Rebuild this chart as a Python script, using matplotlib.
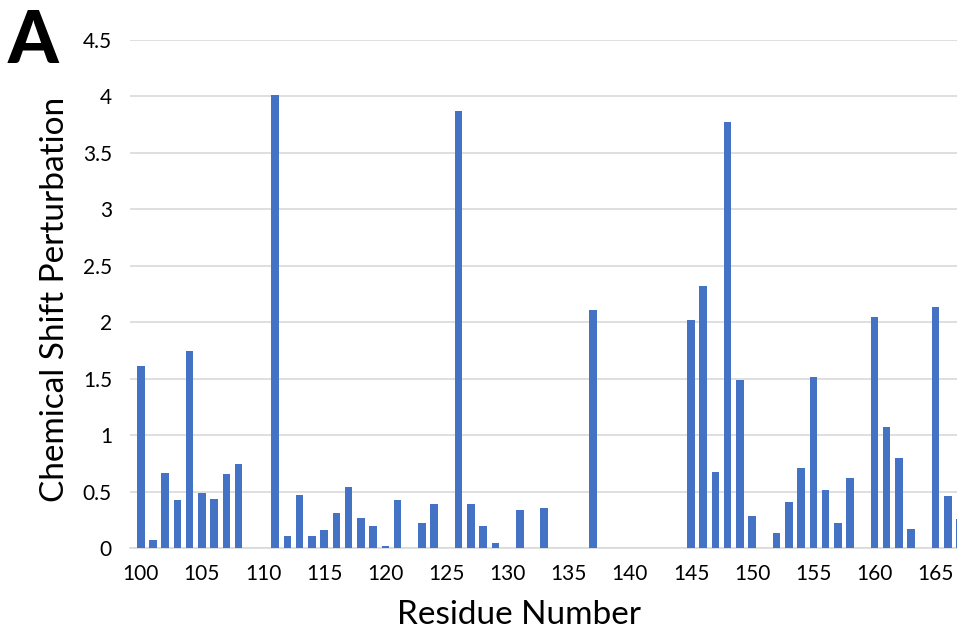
import matplotlib
matplotlib.use("Agg")
import matplotlib.pyplot as plt

# residue numbers and chemical shift perturbation values
residues = list(range(100, 168))
csp = [1.61, 0.07, 0.67, 0.43, 1.75, 0.49, 0.44, 0.66, 0.75, 0, 0,
       4.01, 0.11, 0.47, 0.11, 0.16, 0.31, 0.54, 0.27, 0.20, 0.02,
       0.43, 0, 0.22, 0.39, 0, 3.87, 0.39, 0.20, 0.05, 0, 0.34, 0, 0.36,
       0, 0, 0, 2.11, 0, 0, 0, 0, 0, 0, 0,
       2.02, 2.32, 0.68, 3.77, 1.49, 0.29, 0, 0.14, 0.41, 0.71, 1.52,
       0.52, 0.22, 0.62, 0, 2.05, 1.07, 0.80, 0.17, 0, 2.14, 0.46, 0.26]

xticks = list(range(100, 170, 5))
yticks = [0, 0.5, 1, 1.5, 2, 2.5, 3, 3.5, 4, 4.5]
ytick_labels = ["0", "0.5", "1", "1.5", "2", "2.5", "3", "3.5", "4", "4.5"]

plt.rcParams['font.family'] = ['Lato', 'DejaVu Sans']

fig = plt.figure(figsize=(9.57, 6.32), dpi=100)
ax = fig.add_axes([0.1358, 0.1324, 0.8642, 0.8043])

ax.bar(residues, csp, width=0.62, color='#4472C4', zorder=3)

ax.set_xlim(99.12, 166.75)
ax.set_ylim(0, 4.5)
ax.set_xticks(xticks)
ax.set_yticks(yticks)
ax.set_yticklabels(ytick_labels)
ax.tick_params(axis='x', length=0, labelsize=15, pad=11)
ax.tick_params(axis='y', length=0, labelsize=15, pad=13)

ax.grid(axis='y', color='#D9D9D9', linewidth=1.2, zorder=0)
for s in ['top', 'right', 'left']:
    ax.spines[s].set_visible(False)
ax.spines['bottom'].set_color('#D9D9D9')
ax.spines['bottom'].set_linewidth(1.2)

ax.set_xlabel("Residue Number", fontsize=24)
ax.set_ylabel("Chemical Shift Perturbation", fontsize=24)
# label centres as placed in the original figure
ax.xaxis.set_label_coords(0.471, -0.102)
ax.yaxis.set_label_coords(-0.072, 0.49)

fig.text(0.008, 0.9, "A", fontsize=52, fontweight='black', ha='left', va='baseline')

fig.savefig("out.png", dpi=100)
